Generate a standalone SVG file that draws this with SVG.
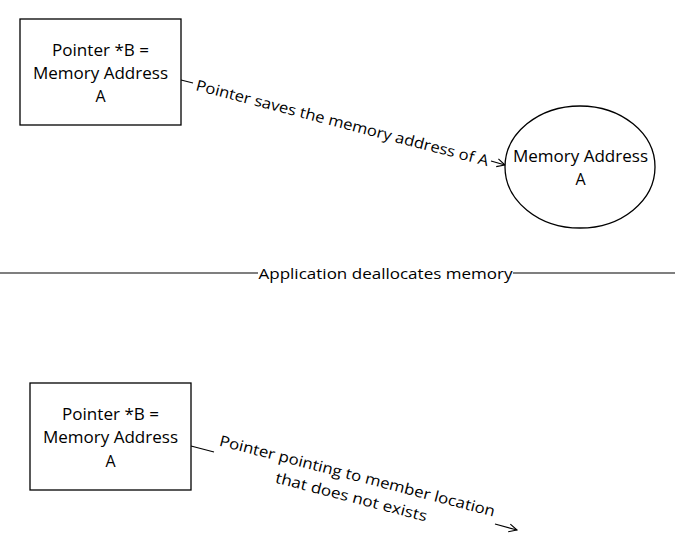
<svg xmlns="http://www.w3.org/2000/svg" width="675" height="555" viewBox="0 0 675 555">
<defs>
<style>
.shape{fill:#fff;stroke:#000;stroke-width:1.3}
.ln{stroke:#000;stroke-width:1.2;fill:none}
text{font-family:"Open Sans","Liberation Sans",sans-serif;font-size:15px;fill:#000}
.c{text-anchor:middle}
.n{font-size:16px}
</style>
<marker id="arr" markerWidth="10" markerHeight="10" refX="9" refY="5" orient="auto" markerUnits="userSpaceOnUse">
<polyline points="1,1 9,5 1,9" fill="none" stroke="#000" stroke-width="1.1"/>
</marker>
</defs>
<rect width="675" height="555" fill="#fff"/>
<g id="connectors">
<line class="ln" x1="181" y1="80" x2="193" y2="83"/>
<line class="ln" x1="491" y1="161" x2="505" y2="165" marker-end="url(#arr)"/>
<text class="c" transform="translate(341,128) rotate(14.6)" textLength="302" lengthAdjust="spacingAndGlyphs">Pointer saves the memory address of A</text>
<line class="ln" x1="0" y1="273" x2="258" y2="273"/>
<line class="ln" x1="513" y1="273" x2="675" y2="273"/>
<text class="c" x="385.5" y="279" textLength="254" lengthAdjust="spacingAndGlyphs">Application deallocates memory</text>
<line class="ln" x1="191" y1="446" x2="214" y2="452"/>
<line class="ln" x1="495" y1="524" x2="517" y2="530" marker-end="url(#arr)"/>
<text class="c" transform="translate(356,481) rotate(14.5)" textLength="284" lengthAdjust="spacingAndGlyphs">Pointer pointing to member location</text>
<text class="c" transform="translate(350,502) rotate(14.5)" textLength="156" lengthAdjust="spacingAndGlyphs">that does not exists</text>
</g>
<g id="nodeB1">
<rect class="shape" x="20" y="19" width="161" height="106"/>
<text class="c n" x="100.5" y="56" textLength="97" lengthAdjust="spacingAndGlyphs">Pointer *B =</text>
<text class="c n" x="100.5" y="79" textLength="135" lengthAdjust="spacingAndGlyphs">Memory Address</text>
<text class="c n" x="100.5" y="102">A</text>
</g>
<g id="nodeMem">
<ellipse class="shape" cx="580" cy="167" rx="75" ry="61"/>
<text class="c n" x="580.5" y="162" textLength="135" lengthAdjust="spacingAndGlyphs">Memory Address</text>
<text class="c n" x="580.5" y="185">A</text>
</g>
<g id="nodeB2">
<rect class="shape" x="30" y="383" width="161" height="107"/>
<text class="c n" x="110.5" y="420" textLength="97" lengthAdjust="spacingAndGlyphs">Pointer *B =</text>
<text class="c n" x="110.5" y="443" textLength="135" lengthAdjust="spacingAndGlyphs">Memory Address</text>
<text class="c n" x="110.5" y="467">A</text>
</g>
</svg>
